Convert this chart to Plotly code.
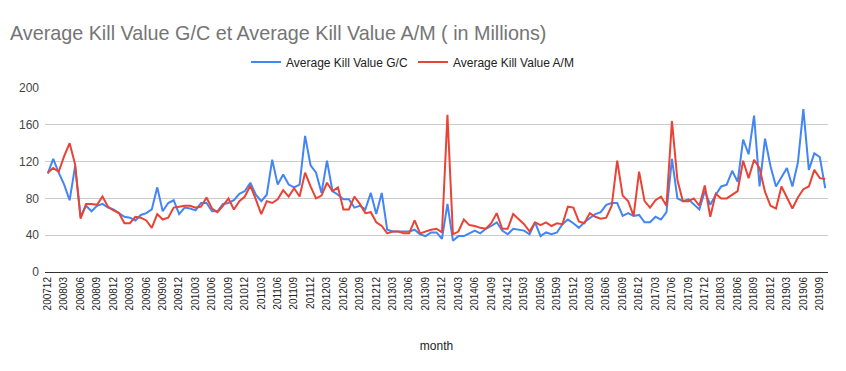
import plotly.graph_objects as go

def month_labels(start_year, start_month, n):
    out = []
    y, m = start_year, start_month
    for _ in range(n):
        out.append(f"{y}{m:02d}")
        m += 1
        if m > 12:
            m = 1
            y += 1
    return out

gc_values = [
    107, 123, 108, 95, 78, 115, 60, 72, 66, 72, 74, 70, 68, 64, 60, 59, 56, 62, 64, 68,
    92, 66, 75, 78, 63, 70, 69, 67, 75, 75, 66, 66, 74, 75, 78, 85, 88, 97, 84, 77,
    84, 122, 95, 106, 95, 92, 95, 148, 116, 108, 86, 121, 88, 84, 79, 79, 70, 72, 68, 86,
    63, 86, 46, 44, 44, 44, 44, 46, 41, 39, 43, 43, 36, 74, 34, 39, 39, 42, 45, 42,
    47, 50, 54, 45, 41, 47, 46, 45, 41, 54, 39, 43, 41, 43, 52, 57, 53, 48, 54, 59,
    63, 65, 73, 75, 75, 61, 64, 61, 62, 54, 54, 60, 57, 65, 123, 80, 77, 79, 73, 68,
    88, 73, 84, 93, 95, 110, 98, 144, 128, 170, 93, 145, 115, 93, 103, 113, 93, 119, 177, 111,
    129, 125, 91,
]

am_values = [
    108, 113, 109, 126, 140, 117, 58, 74, 74, 73, 82, 71, 67, 64, 53, 53, 60, 59, 56, 48,
    63, 57, 59, 70, 71, 72, 72, 70, 71, 81, 69, 65, 72, 80, 68, 77, 82, 94, 79, 63,
    77, 75, 79, 89, 82, 91, 82, 108, 93, 80, 83, 97, 88, 92, 68, 68, 82, 74, 64, 65,
    54, 50, 42, 44, 44, 42, 42, 56, 42, 44, 46, 47, 43, 171, 41, 44, 57, 51, 50, 48,
    47, 53, 64, 47, 47, 63, 57, 52, 44, 54, 51, 54, 50, 53, 52, 71, 70, 55, 53, 64,
    60, 58, 59, 72, 121, 83, 77, 61, 109, 77, 70, 78, 82, 72, 164, 100, 77, 77, 80, 72,
    94, 60, 85, 80, 80, 84, 88, 121, 102, 122, 113, 87, 72, 69, 93, 81, 69, 81, 90, 93,
    111, 102, 101,
]

months = month_labels(2007, 12, len(gc_values))
tick_labels = months[::3]

y_ticks = [0, 40, 80, 120, 160, 200]

# The page body adds an 8px offset, so the figure is sized to fill the rest of the window.
W, H = 838, 363

fig = go.Figure()
fig.add_trace(go.Scatter(
    x=months, y=gc_values, mode="lines", name="Average Kill Value G/C",
    line=dict(color="#4285F4", width=2),
))
fig.add_trace(go.Scatter(
    x=months, y=am_values, mode="lines", name="Average Kill Value A/M",
    line=dict(color="#EA4335", width=2),
))

fig.update_layout(
    width=W, height=H,
    margin=dict(l=37, r=18, t=80, b=99, autoexpand=False),
    paper_bgcolor="white", plot_bgcolor="white",
    font=dict(family="Liberation Sans, Arial, sans-serif", color="#222222", size=12),
    title=dict(
        text="Average Kill Value G/C et Average Kill Value A/M ( in Millions)",
        font=dict(size=19.75, color="#757575"),
        x=2 / W, xref="container", xanchor="left",
        y=1 - 25 / H, yref="container", yanchor="middle",
    ),
    legend=dict(
        orientation="h", x=404.5 / W, xanchor="center", xref="container",
        y=1 - 54 / H, yref="container", yanchor="middle",
        font=dict(size=12, color="#222222"),
        itemwidth=30,
    ),
    showlegend=True,
)

fig.update_xaxes(
    type="category",
    range=[-0.5, len(months) - 0.5],
    tickmode="array", tickvals=tick_labels, ticktext=tick_labels,
    tickangle=-90, tickfont=dict(size=10, color="#222222"),
    showgrid=False, showline=True, linecolor="#333333", linewidth=1,
    ticks="", automargin=False,
    title=dict(text="month", font=dict(size=12, color="#222222"), standoff=32),
)

fig.update_yaxes(
    range=[0, 200],
    tickmode="array", tickvals=y_ticks,
    tickfont=dict(size=12, color="#444444"),
    showgrid=True, gridcolor="#cccccc", gridwidth=1,
    zeroline=False, showline=False,
    ticks="", ticklabelstandoff=5, automargin=False,
)

fig.write_html("out.html")
